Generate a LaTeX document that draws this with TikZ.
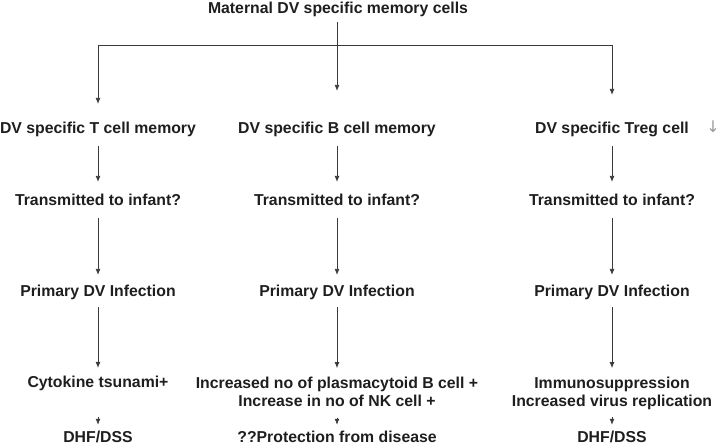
\documentclass[tikz,border=0pt]{standalone}
\usepackage{fontspec}
\setmainfont{Liberation Sans}
\newfontfamily\symfont{DejaVu Sans}
\usetikzlibrary{arrows.meta}
\definecolor{txt}{HTML}{1E1E1E}
\definecolor{ln}{HTML}{3A3A3A}
\begin{document}
\begin{tikzpicture}[x=1pt,y=-1pt,
  lbl/.style={font=\fontsize{15.8}{18}\selectfont\bfseries, text=txt, inner sep=0pt, text height=11pt, text depth=3pt, anchor=center},
  lbltwo/.style={font=\fontsize{15.8}{18}\selectfont\bfseries, text=txt, inner sep=0pt, align=center, anchor=north},
  conn/.style={draw=ln, line width=0.85pt, -{Latex[length=6pt,width=5pt]}}]
\useasboundingbox (0,0) rectangle (720,446);
% nodes
\node[lbl] (title) at (338,10) {Maternal DV specific memory cells};
\node[lbl] (T1) at (98,129.5) {DV specific T cell memory};
\node[lbl] (B1) at (337,129.5) {DV specific B cell memory};
\node[lbl] (R1) at (612,129.5) {DV specific Treg cell};
\node[font=\symfont\fontsize{16}{18}\selectfont, text=black!40, inner sep=0pt] (down) at (713,127) {↓};
\node[lbl] (T2) at (98,201.5) {Transmitted to infant?};
\node[lbl] (B2) at (337,201.5) {Transmitted to infant?};
\node[lbl] (R2) at (612,201.5) {Transmitted to infant?};
\node[lbl] (T3) at (98,292.5) {Primary DV Infection};
\node[lbl] (B3) at (337,292.5) {Primary DV Infection};
\node[lbl] (R3) at (612,292.5) {Primary DV Infection};
\node[lbl] (T4) at (98,383.5) {Cytokine tsunami+};
\node[lbltwo] (B4) at (337,376.5) {Increased no of plasmacytoid B cell +\\Increase in no of NK cell +};
\node[lbltwo] (R4) at (612,376.5) {Immunosuppression\\Increased virus replication};
\node[lbl] (T5) at (98,438) {DHF/DSS};
\node[lbl] (B5) at (337,438) {??Protection from disease};
\node[lbl] (R5) at (612,438) {DHF/DSS};
% top connectors
\coordinate (junc) at (337,45);
\draw[conn, shorten <=5pt, shorten >=31.4pt] (title.south -| B1.north) -- (B1.north);
\draw[conn, shorten >=18.4pt] (junc) -| (T1.north);
\draw[conn, shorten >=27.4pt] (junc) -| (R1.north);
% column connectors
\foreach \c in {T,B,R}{
  \draw[conn, shorten <=9.6pt, shorten >=12.4pt] (\c1.south) -- (\c2.north);
  \draw[conn, shorten <=9.6pt, shorten >=10.4pt] (\c2.south) -- (\c3.north);
  \draw[conn, shorten <=7.6pt, shorten >=8.4pt] (\c3.south) -- (\c4.north);
}
\draw[conn, shorten <=26pt, shorten >=6pt] (T4.south) -- (T5.north);
\draw[conn, shorten <=11pt, shorten >=6pt] (B4.south) -- (B5.north);
\draw[conn, shorten <=7.7pt, shorten >=6pt] (R4.south) -- (R5.north);
\end{tikzpicture}
\end{document}
